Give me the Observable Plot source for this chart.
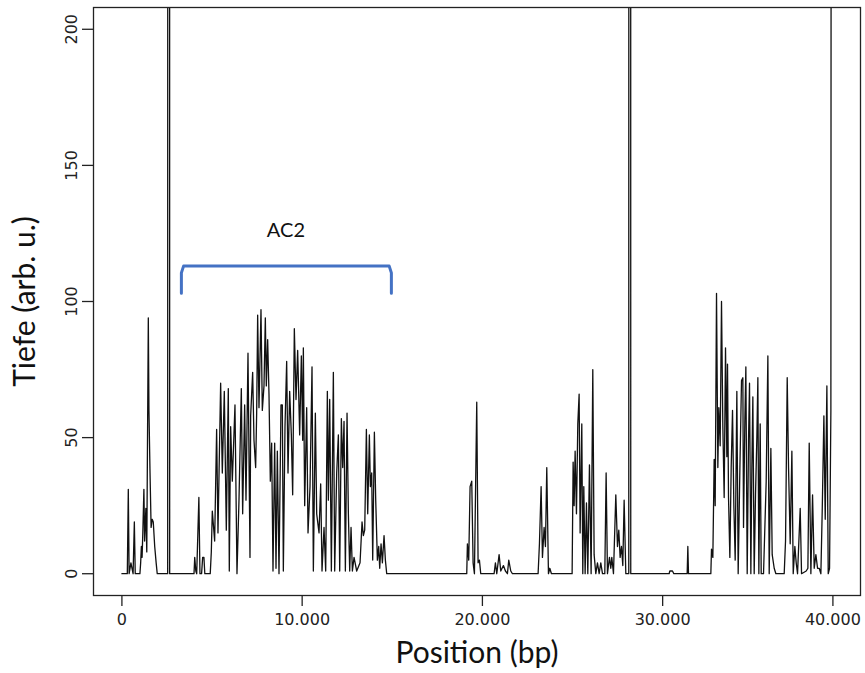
<!DOCTYPE html>
<html>
<head>
<meta charset="utf-8">
<script src="https://cdn.jsdelivr.net/npm/d3@7"></script>
<script src="https://cdn.jsdelivr.net/npm/@observablehq/plot@0.6"></script>
<style>
  html, body { margin: 0; padding: 0; background: white; }
</style>
</head>
<body>
<div id="chart"></div>
<script>
// ---- Data ----
const xTicks = [0, 10000, 20000, 30000, 40000];
const xTickLabels = ["0", "10.000", "20.000", "30.000", "40.000"];
const yTicks = [0, 50, 100, 150, 200];

// sequencing depth along the genome (positions in bp); 900 = off-scale spikes
const position = [
  0, 300, 355, 400, 450, 500, 560, 620, 690, 740, 1000, 1040, 1080, 1120, 1160, 1220, 1260, 1330, 1380, 1465,
  1500, 1560, 1620, 1680, 1740, 1820, 1900, 1960, 2540, 2550, 2640, 2650, 4000, 4040, 4100, 4150, 4270, 4330, 4420, 4480,
  4550, 4600, 4900, 4960, 5015, 5145, 5255, 5330, 5478, 5570, 5681, 5792, 5903, 5958, 6033, 6125, 6273, 6384, 6495, 6625,
  6699, 6810, 6884, 6995, 7106, 7143, 7254, 7328, 7420, 7476, 7531, 7605, 7716, 7790, 7883, 7957, 8012, 8086, 8160, 8234,
  8308, 8382, 8475, 8549, 8623, 8715, 8826, 8900, 8956, 9048, 9141, 9215, 9307, 9400, 9474, 9566, 9659, 9751, 9862, 9955,
  10029, 10066, 10140, 10251, 10325, 10436, 10547, 10621, 10732, 10806, 10936, 11028, 11102, 11213, 11306, 11398, 11454, 11528, 11620, 11731,
  11805, 11916, 12009, 12083, 12175, 12249, 12323, 12397, 12490, 12564, 12638, 12712, 12786, 12878, 13026, 13211, 13322, 13396, 13470, 13563,
  13637, 13729, 13785, 13859, 13914, 14007, 14081, 14173, 14247, 14303, 14377, 14451, 14543, 14617, 14691, 19131, 19168, 19242, 19316, 19409,
  19483, 19557, 19686, 19760, 19834, 19908, 20648, 20722, 20796, 20926, 21018, 21166, 21277, 21388, 21462, 21573, 21666, 23090, 23164, 23257,
  23331, 23423, 23497, 23571, 23664, 23738, 23830, 24977, 25033, 25088, 25144, 25218, 25292, 25366, 25421, 25514, 25569, 25625, 25699, 25773,
  25847, 25939, 26032, 26124, 26198, 26291, 26383, 26476, 26568, 26661, 26790, 26864, 26938, 27049, 27123, 27179, 27271, 27401, 27493, 27567,
  27641, 27715, 27789, 27863, 27956, 28120, 28130, 28220, 28230, 30360, 30397, 30471, 30545, 30620, 31360, 31397, 31434, 32673, 32710, 32784,
  32858, 32914, 32988, 33062, 33117, 33191, 33265, 33339, 33413, 33487, 33561, 33598, 33654, 33728, 33802, 33876, 33950, 34024, 34116, 34190,
  34283, 34375, 34449, 34486, 34560, 34616, 34690, 34764, 34819, 34893, 34949, 35004, 35078, 35152, 35226, 35282, 35337, 35411, 35467, 35596,
  35744, 35837, 35911, 36003, 36077, 36188, 36281, 36743, 36817, 36910, 36984, 37076, 37169, 37243, 37335, 37409, 37483, 37631, 37705, 37964,
  38057, 38131, 38223, 38316, 38408, 38501, 38593, 38686, 38778, 38852, 38945, 39019, 39111, 39185, 39259, 39333, 39390
];
const depth = [
  0, 0, 31, 0, 2, 4, 2, 0, 19, 0, 0, 4, 10, 6, 15, 31, 12, 24, 8, 94,
  60, 37, 17, 20, 19, 10, 4, 0, 0, 900, 900, 0, 0, 6, 1, 0, 28, 0, 0, 6,
  6, 0, 0, 8, 23, 12, 53, 15, 70, 37, 67, 16, 68, 1, 54, 34, 62, 0, 27, 68,
  22, 62, 27, 81, 6, 58, 74, 49, 39, 59, 95, 61, 97, 60, 69, 94, 69, 86, 66, 34,
  48, 1, 48, 2, 45, 0, 62, 62, 1, 54, 78, 37, 67, 51, 29, 90, 64, 82, 51, 80,
  49, 83, 25, 61, 15, 32, 76, 1, 59, 22, 15, 33, 1, 17, 1, 67, 27, 64, 1, 74,
  1, 37, 51, 1, 57, 39, 56, 1, 59, 22, 1, 17, 1, 6, 1, 4, 19, 14, 16, 53,
  22, 51, 32, 37, 5, 52, 27, 5, 10, 2, 11, 4, 14, 5, 0, 0, 11, 5, 32, 34,
  4, 0, 63, 4, 5, 0, 0, 4, 0, 7, 1, 3, 1, 0, 5, 1, 0, 0, 11, 32,
  6, 17, 10, 39, 0, 2, 0, 0, 41, 25, 45, 22, 55, 66, 15, 55, 0, 32, 0, 26,
  0, 40, 0, 75, 7, 0, 4, 0, 4, 0, 0, 37, 0, 6, 2, 6, 0, 29, 10, 16,
  6, 10, 3, 27, 0, 0, 900, 900, 0, 0, 1, 1, 1, 0, 0, 10, 0, 0, 9, 6,
  42, 25, 103, 39, 61, 47, 100, 54, 28, 83, 43, 77, 28, 6, 39, 60, 25, 5, 67, 0,
  38, 71, 72, 17, 56, 76, 0, 49, 70, 0, 39, 65, 0, 29, 50, 72, 0, 55, 0, 0,
  34, 80, 0, 46, 7, 2, 0, 0, 12, 72, 39, 11, 45, 0, 10, 4, 0, 24, 0, 1,
  2, 48, 0, 29, 2, 7, 2, 2, 0, 23, 58, 20, 69, 0, 2, 60, 900
];

// annotation: bracket marking the AC2 region and its label
const bracketPos = [3300, 3300, 3420, 14830, 14950, 14950];
const bracketDepth = [103, 110.5, 113, 113, 110.5, 103];
const labelPos = [9100];
const labelDepth = [126];
const labelText = ["AC2"];

const data = position.map((p, i) => ({pos: p, depth: depth[i]}));
const bracket = bracketPos.map((p, i) => ({pos: p, depth: bracketDepth[i]}));
const labels = labelPos.map((p, i) => ({pos: p, depth: labelDepth[i], text: labelText[i]}));

const fmtX = d => xTickLabels[xTicks.indexOf(d)];

const chart = Plot.plot({
  width: 865,
  height: 673,
  marginLeft: 93,
  marginRight: 5,
  marginTop: 7,
  marginBottom: 78,
  x: {domain: [-1576, 40976]},
  y: {domain: [-8, 208]},
  style: {fontFamily: "DejaVu Sans", fontSize: "16px", background: "white", color: "#222"},
  marks: [
    Plot.line(data, {x: "pos", y: "depth", stroke: "#111", strokeWidth: 1.3, clip: true}),
    Plot.line(bracket, {x: "pos", y: "depth", stroke: "#4472C4", strokeWidth: 3, strokeLinejoin: "round"}),
    Plot.text(labels, {x: "pos", y: "depth", text: "text", fontFamily: "Lato", fontSize: 20, fill: "#111"}),
    Plot.frame({stroke: "#222", strokeWidth: 1.3}),
    Plot.axisX(xTicks.slice(0, -1), {
      tickSize: 11, tickPadding: 7, fontSize: 16, label: null, strokeWidth: 1.3, tickFormat: fmtX
    }),
    Plot.axisX(xTicks.slice(-1), {
      tickSize: 11, tickPadding: 7, fontSize: 16, label: null, strokeWidth: 1.3, tickFormat: fmtX, dx: -10
    }),
    Plot.axisY(yTicks, {tickSize: 11, tickPadding: 6, tickRotate: -90, fontSize: 16, label: null, strokeWidth: 1.3}),
    Plot.text(["Position (bp)"], {frameAnchor: "bottom", lineAnchor: "middle", dy: 58, fontFamily: "Lato", fontSize: 30, fill: "#111"}),
    Plot.text(["Tiefe (arb. u.)"], {frameAnchor: "left", textAnchor: "middle", lineAnchor: "middle", dx: -68, rotate: -90, fontFamily: "Lato", fontSize: 30, fill: "#111"})
  ]
});
document.getElementById("chart").appendChild(chart);
</script>
</body>
</html>
